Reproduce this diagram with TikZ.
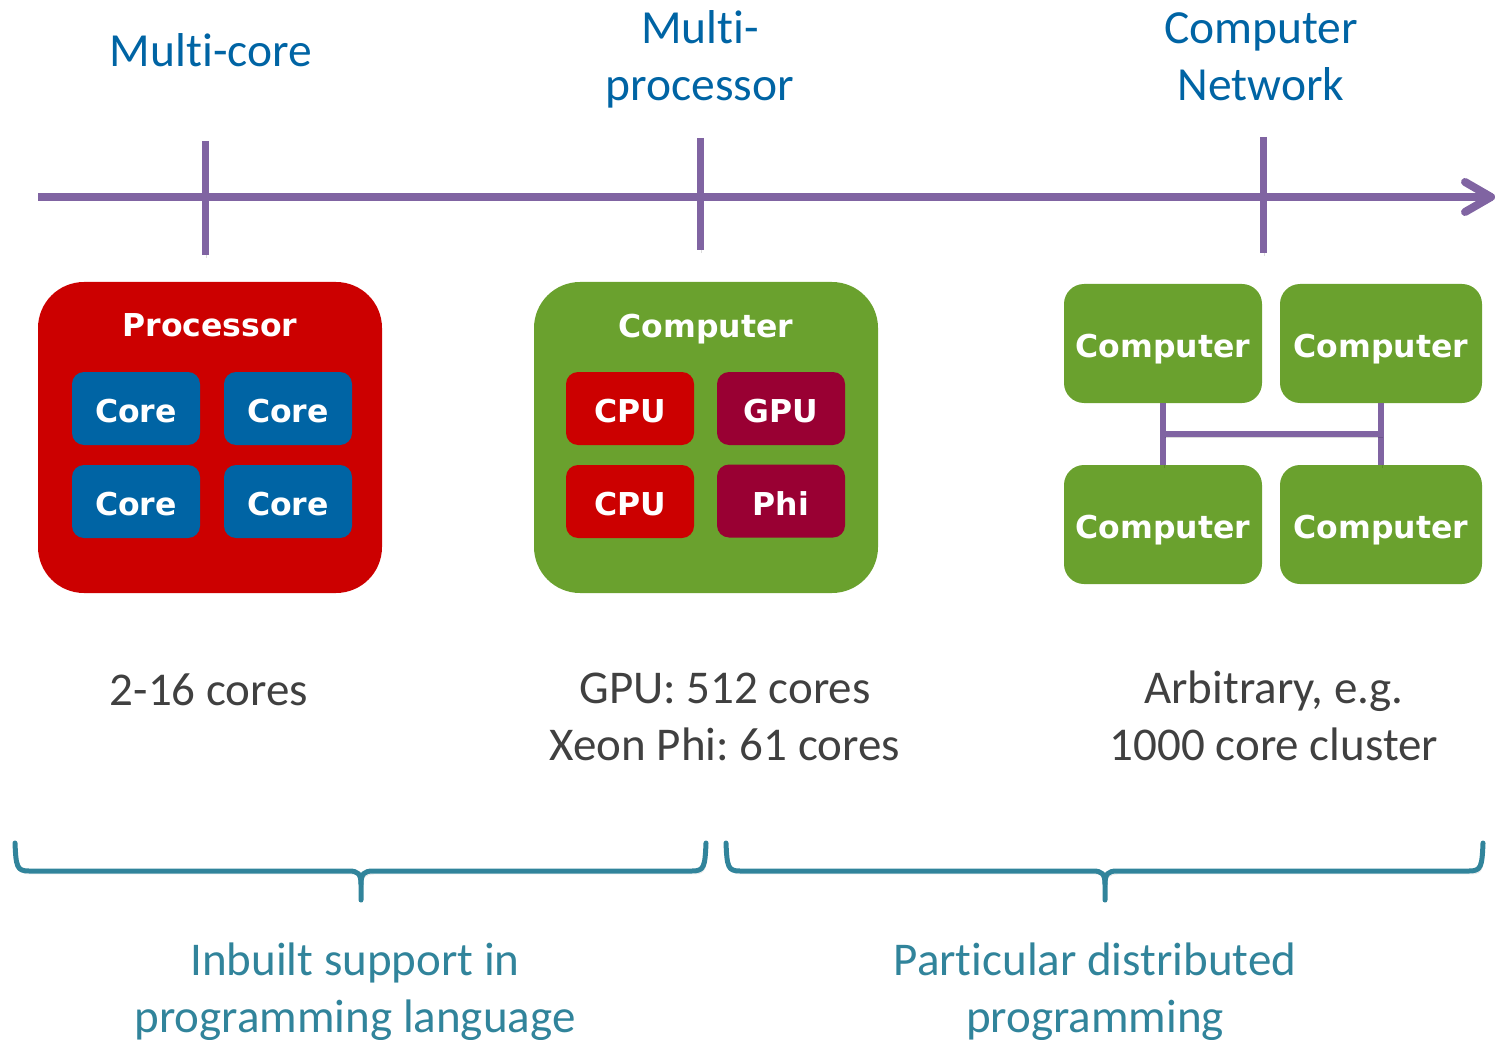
\documentclass[tikz,border=0pt]{standalone}
\usepackage{fontspec}
\setmainfont{Carlito}[Ligatures=NoCommon]
\newfontfamily\boxfont{DejaVu Sans}
\usetikzlibrary{calc}
\frenchspacing

\definecolor{axispurple}{HTML}{8064A2}
\definecolor{procred}{HTML}{CC0000}
\definecolor{coreblue}{HTML}{0064A4}
\definecolor{compgreen}{HTML}{6AA12E}
\definecolor{accred}{HTML}{990033}
\definecolor{labelblue}{HTML}{0064A4}
\definecolor{textgray}{HTML}{404040}
\definecolor{braceteal}{HTML}{31849B}

\tikzset{
  softshadow/.style={preaction={draw=black, opacity=0.14, transform canvas={shift={(1.5,3)}}}},
  axisline/.style={draw=axispurple, line width=8pt, softshadow},
  tickline/.style={draw=axispurple, line width=7pt, softshadow},
  netline/.style={draw=axispurple, line width=5.5pt, softshadow},
  bracepath/.style={draw=braceteal, line width=5pt, line cap=round, line join=round, softshadow},
  bigbox/.style={rectangle, rounded corners=46pt, minimum width=344pt, minimum height=311pt, inner sep=0pt},
  unitbox/.style={rectangle, rounded corners=12pt, minimum width=128pt, minimum height=73pt, inner sep=0pt,
    text=white, font=\boxfont\bfseries\fontsize{31.5}{36}\selectfont, text height=28pt, text depth=0pt},
  pcbox/.style={rectangle, rounded corners=20pt, minimum height=119pt, inner sep=0pt, fill=compgreen,
    text=white, font=\boxfont\bfseries\fontsize{31.5}{36}\selectfont, text height=28pt, text depth=0pt},
  boxtitle/.style={text=white, font=\boxfont\bfseries\fontsize{31.5}{36}\selectfont, inner sep=0pt, text depth=0pt},
  toplabel/.style={text=labelblue, font=\fontsize{47.5}{57}\selectfont, align=center, anchor=base, inner sep=0pt},
  countlabel/.style={text=textgray, font=\fontsize{47}{57}\selectfont, align=center, anchor=base, inner sep=0pt},
  bracelabel/.style={text=braceteal, font=\fontsize{47}{57}\selectfont, align=center, anchor=base, inner sep=0pt},
}

\begin{document}
\begin{tikzpicture}[x=1pt, y=-1pt]
\useasboundingbox (0,0) rectangle (1495,1040);

% timeline axis with open arrow head
\coordinate (axstart) at (38,197);
\coordinate (axend) at (1491,197);
\draw[axisline] (axstart) -- (axend);
\draw[axisline, line cap=round, line join=round] ($(axend)+(-26,-15)$) -- (axend) -- ($(axend)+(-26,15)$);

% tick marks
\coordinate (t1a) at (205,141); \coordinate (t1b) at (205,255);
\coordinate (t2a) at (700,138); \coordinate (t2b) at (700,250);
\coordinate (t3a) at (1263,137); \coordinate (t3b) at (1263,253);
\draw[tickline] (t1a) -- (t1b);
\draw[tickline] (t2a) -- (t2b);
\draw[tickline] (t3a) -- (t3b);

% labels above the axis (base anchor sits on the last line)
\node[toplabel] (lmc) at (211,67) {Multi-core};
\node[toplabel] (lmp) at (700,101) {Multi-\\processor};
\node[toplabel] (lcn) at (1261,101) {Computer\\Network};

% multi-core processor
\node[bigbox, fill=procred] (proc) at (210,437.5) {};
\node[boxtitle] (proct) at (210,325.5) {Processor};
\node[unitbox, fill=coreblue] (core1) at (136,408.5) {Core};
\node[unitbox, fill=coreblue] (core2) at (288,408.5) {Core};
\node[unitbox, fill=coreblue] (core3) at (136,501.5) {Core};
\node[unitbox, fill=coreblue] (core4) at (288,501.5) {Core};

% multi-processor computer
\node[bigbox, fill=compgreen] (comp) at (706,437.5) {};
\node[boxtitle] (compt) at (706,325.5) {Computer};
\node[unitbox, fill=procred] (cpu1) at (630,408.5) {CPU};
\node[unitbox, fill=accred] (gpu) at (781,408.5) {GPU};
\node[unitbox, fill=procred] (cpu2) at (630,501.5) {CPU};
\node[unitbox, fill=accred] (phi) at (781,501) {Phi};

% computer network
\node[pcbox, minimum width=198pt] (pc1) at (1163,343.5) {Computer};
\node[pcbox, minimum width=202pt] (pc2) at (1381,343.5) {Computer};
\node[pcbox, minimum width=198pt] (pc3) at (1163,524.5) {Computer};
\node[pcbox, minimum width=202pt] (pc4) at (1381,524.5) {Computer};
\path (pc1.south) -- (pc3.north) coordinate[midway] (bus1);
\path (pc2.south) -- (pc4.north) coordinate[midway] (bus2);
\draw[netline] (pc1.south) -- (pc3.north);
\draw[netline] (pc2.south) -- (pc4.north);
\draw[netline] (bus1) -- (bus2);

% core counts
\node[countlabel] (cnt1) at (209,705) {2-16 cores};
\node[countlabel] (cnt2) at (725,760) {GPU: 512 cores\\Xeon Phi: 61 cores};
\node[countlabel] (cnt3) at (1274,760) {Arbitrary, e.g.\\1000 core cluster};

% braces
\coordinate (b1l) at (15,843); \coordinate (b1r) at (706,843); \coordinate (b1tip) at (361,900);
\coordinate (b2l) at (726,843); \coordinate (b2r) at (1483,843); \coordinate (b2tip) at (1105,900);
\draw[bracepath] (b1l) .. controls ($(b1l)+(1,24)$) and ($(b1l)+(2,28)$) .. ($(b1l)+(14,28)$)
  -- ($(b1tip)+(-12,-29)$) .. controls ($(b1tip)+(-3,-29)$) and ($(b1tip)+(0,-26)$) .. ($(b1tip)+(0,-16)$)
  -- (b1tip);
\draw[bracepath] (b1r) .. controls ($(b1r)+(-1,24)$) and ($(b1r)+(-2,28)$) .. ($(b1r)+(-14,28)$)
  -- ($(b1tip)+(12,-29)$) .. controls ($(b1tip)+(3,-29)$) and ($(b1tip)+(0,-26)$) .. ($(b1tip)+(0,-16)$);
\draw[bracepath] (b2l) .. controls ($(b2l)+(1,24)$) and ($(b2l)+(2,28)$) .. ($(b2l)+(14,28)$)
  -- ($(b2tip)+(-12,-29)$) .. controls ($(b2tip)+(-3,-29)$) and ($(b2tip)+(0,-26)$) .. ($(b2tip)+(0,-16)$)
  -- (b2tip);
\draw[bracepath] (b2r) .. controls ($(b2r)+(-1,24)$) and ($(b2r)+(-2,28)$) .. ($(b2r)+(-14,28)$)
  -- ($(b2tip)+(12,-29)$) .. controls ($(b2tip)+(3,-29)$) and ($(b2tip)+(0,-26)$) .. ($(b2tip)+(0,-16)$);

% brace captions
\node[bracelabel] (cap1) at (355,1032) {Inbuilt support in\\programming language};
\node[bracelabel] (cap2) at (1095,1032) {Particular distributed\\programming};
\end{tikzpicture}
\end{document}
